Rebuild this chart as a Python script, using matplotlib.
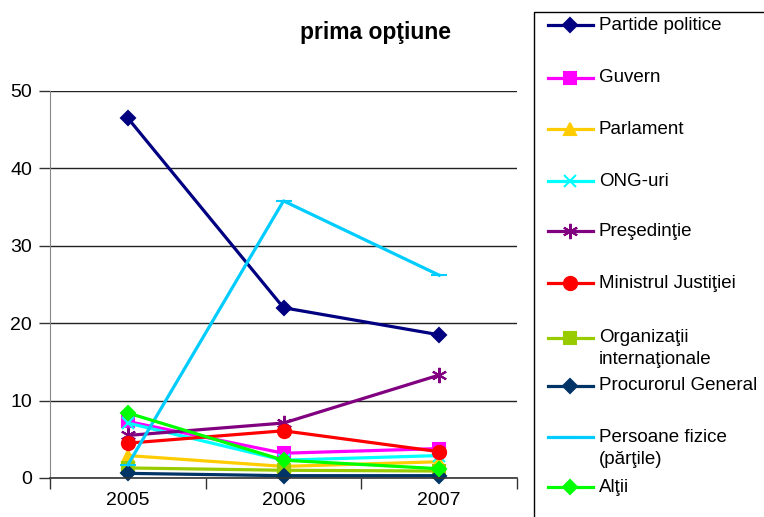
import matplotlib
matplotlib.use("Agg")
import matplotlib.pyplot as plt
from matplotlib.lines import Line2D
from matplotlib.patches import Rectangle

plt.rcParams['font.family'] = ['Liberation Sans', 'DejaVu Sans']

years = ["2005", "2006", "2007"]
series_names = ["Partide politice", "Guvern", "Parlament", "ONG-uri", "Preşedinţie",
                "Ministrul Justiţiei", "Organizaţii\ninternaţionale", "Procurorul General",
                "Persoane fizice\n(părţile)", "Alţii"]
partide = [46.5, 22.0, 18.5]
guvern = [7.3, 3.2, 3.8]
parlament = [2.9, 1.5, 2.1]
ong = [7.1, 2.3, 2.9]
presedintie = [5.5, 7.1, 13.3]
ministrul = [4.5, 6.1, 3.4]
organizatii = [1.3, 1.0, 0.9]
procurorul = [0.6, 0.3, 0.3]
persoane = [1.7, 35.8, 26.2]
altii = [8.4, 2.3, 1.2]
values = [partide, guvern, parlament, ong, presedintie, ministrul,
          organizatii, procurorul, persoane, altii]

colors = ["#000080", "#FF00FF", "#FFCC00", "#00FFFF", "#800080", "#FF0000",
          "#99CC00", "#003366", "#00CCFF", "#00FF00"]
markers = ["D", "s", "^", "x", (6, 2, 0), "o", "s", "D", "_", "D"]
msizes = [7.5, 8, 9, 9, 11, 9.5, 8, 7.5, 11, 7.5]

W, H = 764, 517
fig = plt.figure(figsize=(W / 100, H / 100), dpi=100)

def px(x0, y0, x1, y1):
    return [x0 / W, 1 - y1 / H, (x1 - x0) / W, (y1 - y0) / H]

ax = fig.add_axes(px(50, 91, 517, 478))
xpos = [0.5, 1.5, 2.5]
for vals, c, m, ms in zip(values, colors, markers, msizes):
    ax.plot(xpos, vals, color=c, lw=2.3, marker=m, markersize=ms,
            markeredgecolor=c, markerfacecolor=c, markeredgewidth=1.5,
            clip_on=False, solid_joinstyle='round')

ax.set_xlim(0, 3)
ax.set_ylim(0, 50)
ax.set_yticks([0, 10, 20, 30, 40, 50])
ax.set_xticks(xpos)
ax.set_xticklabels(years)
ax.set_xticks([0, 1, 2, 3], minor=True)
ax.tick_params(axis='x', which='major', length=0, pad=10, labelsize=14)
ax.tick_params(axis='x', which='minor', length=8, width=1, color='#333333')
ax.tick_params(axis='y', length=8, width=1, color='#333333', labelsize=14, pad=5)
ax.yaxis.grid(True, color='#222222', lw=1)
ax.set_axisbelow(True)
for s in ['top', 'right']:
    ax.spines[s].set_visible(False)
ax.spines['left'].set_color('#888888')
ax.spines['bottom'].set_color('#333333')
ax.spines['bottom'].set_linewidth(1.2)

fig.text(376 / W, 1 - 33 / H, "prima opţiune", ha='center', va='center',
         fontsize=16.5, fontweight='bold')

# legend (manual, Excel style)
lax = fig.add_axes([0, 0, 1, 1])
lax.set_xlim(0, W)
lax.set_ylim(H, 0)
lax.axis('off')
lax.add_patch(Rectangle((534, 12), 300, 600, fill=False, edgecolor='black', lw=1))
ys = [25, 78, 129, 181, 231, 283, 338, 386, 437, 487]
for name, c, m, ms, y in zip(series_names, colors, markers, msizes, ys):
    lax.add_line(Line2D([548, 593], [y, y], color=c, lw=2.3))
    lax.add_line(Line2D([570], [y], color=c, marker=m, markersize=ms,
                        markeredgecolor=c, markerfacecolor=c, markeredgewidth=1.5))
    lines = name.split("\n")
    for i, t in enumerate(lines):
        lax.text(599, y + i * 22, t, ha='left', va='center', fontsize=13.5)

fig.savefig("out.png", dpi=100)
